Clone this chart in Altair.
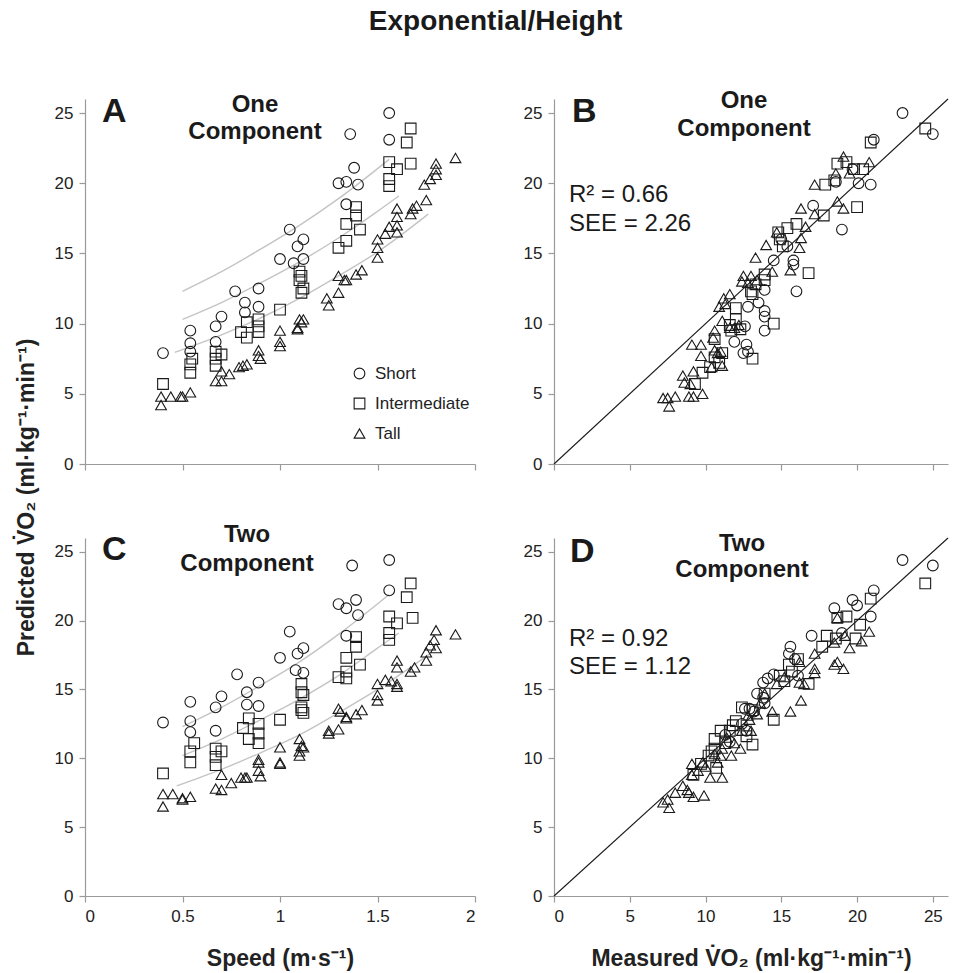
import altair as alt
import pandas as pd

GROUPS = ["Short", "Intermediate", "Tall"]
SHAPES = ["circle", "square", "triangle-up"]
FONT = "Liberation Sans"
INK = "#1a1a1a"
AXIS_GRAY = "#9a9a9a"

# ---------------- Panel A: speed vs predicted VO2 (one component) ----------------
A_SHORT = [(0.40, 7.9), (0.54, 9.5), (0.54, 8.6), (0.54, 8.0), (0.67, 9.8), (0.70, 10.5),
           (0.67, 8.7), (0.77, 12.3), (0.82, 11.5), (0.82, 10.8), (0.89, 12.5), (0.89, 11.2),
           (1.00, 14.6), (1.05, 16.7), (1.09, 15.5), (1.12, 16.0), (1.07, 14.3), (1.12, 14.6),
           (1.30, 20.0), (1.34, 20.1), (1.36, 23.5), (1.38, 21.1), (1.40, 19.9), (1.34, 18.5),
           (1.56, 25.0), (1.56, 23.1)]
A_INTER = [(0.40, 5.7), (0.54, 7.1), (0.54, 6.5), (0.55, 7.5), (0.67, 8.0), (0.67, 7.5),
           (0.67, 7.0), (0.70, 7.8), (0.80, 9.4), (0.83, 10.1), (0.83, 9.0), (0.89, 10.3),
           (0.89, 9.8), (0.89, 9.4), (1.00, 11.0), (1.10, 13.7), (1.11, 13.4), (1.10, 13.1),
           (1.12, 12.5), (1.11, 12.2), (1.30, 15.4), (1.34, 15.9), (1.34, 17.1), (1.39, 18.3),
           (1.39, 17.7), (1.41, 16.7), (1.56, 21.5), (1.60, 21.0), (1.56, 20.3), (1.56, 19.8),
           (1.65, 22.9), (1.67, 23.9), (1.67, 21.4)]
A_TALL = [(0.39, 4.8), (0.39, 4.2), (0.44, 4.8), (0.49, 4.8), (0.50, 4.8), (0.54, 5.1),
          (0.67, 5.9), (0.70, 5.9), (0.70, 6.6), (0.74, 6.4), (0.79, 6.9), (0.81, 7.0),
          (0.83, 7.1), (0.89, 7.7), (0.89, 8.1), (0.90, 7.5), (1.00, 9.5), (1.00, 8.7),
          (1.00, 8.4), (1.09, 9.6), (1.10, 10.3), (1.11, 10.1), (1.12, 10.3), (1.09, 9.7),
          (1.24, 11.8), (1.25, 11.3), (1.30, 13.4), (1.30, 12.2), (1.33, 13.1), (1.34, 13.1),
          (1.39, 13.5), (1.42, 13.8), (1.50, 16.0), (1.50, 15.4), (1.50, 14.7), (1.54, 16.4),
          (1.56, 16.9), (1.60, 18.2), (1.60, 17.6), (1.60, 17.0), (1.60, 16.5), (1.67, 17.8),
          (1.68, 18.2), (1.70, 18.4), (1.75, 18.8), (1.74, 19.9), (1.77, 20.3), (1.80, 20.6),
          (1.80, 21.0), (1.80, 21.4), (1.90, 21.8)]
A_CURVE_SHORT = [(0.50, 12.3), (0.70, 13.7), (0.90, 15.3), (1.10, 17.0), (1.30, 18.9), (1.56, 21.7)]
A_CURVE_INTER = [(0.50, 10.3), (0.70, 11.5), (0.90, 12.9), (1.10, 14.4), (1.30, 16.1), (1.50, 18.0), (1.61, 19.1)]
A_CURVE_TALL = [(0.46, 7.95), (0.70, 9.2), (0.90, 10.4), (1.10, 11.8), (1.30, 13.4), (1.50, 15.1), (1.76, 17.8)]

# ---------------- Panel B: measured vs predicted (one component) ----------------
B_SHORT = [(23.0, 25.0), (25.0, 23.5), (21.1, 23.1), (20.1, 20.0), (20.9, 19.9), (18.6, 20.1),
           (17.1, 18.4), (19.0, 16.7), (14.5, 14.5), (15.8, 14.5), (15.8, 14.2), (15.4, 15.5),
           (16.0, 12.3), (13.5, 11.5), (13.9, 12.4), (13.9, 10.9), (13.9, 10.5), (13.9, 9.5),
           (12.8, 11.2), (12.6, 9.8), (11.9, 8.7), (12.7, 8.5), (12.5, 7.9), (12.8, 8.0),
           (15.0, 16.0), (19.7, 21.0)]
B_INTER = [(24.5, 23.9), (20.9, 22.9), (20.0, 18.3), (17.9, 19.9), (17.8, 17.7), (16.8, 13.6),
           (18.7, 21.4), (19.3, 21.5), (19.8, 21.0), (20.4, 21.0), (18.5, 20.2), (16.0, 17.1),
           (15.4, 16.8), (14.9, 16.0), (15.1, 15.5), (14.8, 16.5), (13.9, 13.5), (13.9, 13.1),
           (13.3, 12.8), (13.0, 12.3), (13.1, 12.1), (12.0, 11.1), (12.0, 10.3), (11.7, 9.5),
           (12.3, 9.6), (14.5, 10.0), (13.1, 7.5), (11.1, 7.9), (10.6, 7.6), (10.9, 7.2),
           (10.3, 6.9), (9.8, 6.5), (9.3, 5.7), (11.6, 9.9), (10.6, 8.9)]
B_TALL = [(19.1, 21.9), (20.8, 21.5), (19.5, 20.7), (18.6, 20.7), (17.2, 19.9), (18.7, 18.7),
          (19.1, 18.2), (16.3, 18.2), (17.2, 17.8), (16.6, 16.9), (16.3, 16.1), (16.2, 15.4),
          (15.6, 13.8), (14.7, 16.5), (14.0, 15.6), (13.3, 14.7), (14.4, 13.7), (12.5, 13.4),
          (13.0, 13.4), (13.4, 13.1), (12.8, 12.9), (11.6, 12.1), (11.2, 11.8), (10.9, 11.2),
          (11.1, 10.2), (10.6, 9.5), (10.5, 9.0), (11.6, 9.7), (9.1, 8.5), (9.7, 8.5),
          (9.7, 7.7), (10.8, 7.9), (11.1, 7.0), (10.4, 6.9), (9.2, 6.6), (8.5, 6.3),
          (8.6, 5.8), (9.0, 5.7), (7.2, 4.7), (7.5, 4.7), (8.0, 4.8), (7.6, 4.1),
          (8.9, 4.8), (9.2, 4.8), (9.8, 5.0), (12.2, 9.9), (11.9, 9.7), (12.4, 13.0),
          (11.3, 11.4), (10.6, 8.1), (11.0, 8.0)]

# ---------------- Panel C: speed vs predicted VO2 (two component) ----------------
C_SHORT = [(0.40, 12.6), (0.54, 14.1), (0.54, 12.7), (0.54, 11.9), (0.67, 13.7), (0.70, 14.5),
           (0.67, 12.0), (0.78, 16.1), (0.83, 14.8), (0.83, 13.9), (0.89, 15.5), (0.89, 13.8),
           (1.00, 17.3), (1.05, 19.2), (1.09, 17.6), (1.12, 18.0), (1.08, 16.4), (1.12, 16.2),
           (1.30, 21.2), (1.34, 20.9), (1.37, 24.0), (1.39, 21.5), (1.40, 20.4), (1.34, 18.9),
           (1.56, 24.4), (1.56, 22.2)]
C_INTER = [(0.40, 8.9), (0.54, 10.5), (0.54, 9.7), (0.56, 11.1), (0.67, 10.7), (0.67, 10.1),
           (0.67, 9.5), (0.70, 10.5), (0.81, 12.2), (0.84, 12.9), (0.84, 11.4), (0.89, 12.5),
           (0.89, 11.8), (0.89, 11.1), (1.00, 12.8), (1.11, 15.4), (1.11, 14.8), (1.12, 14.6),
           (1.11, 13.7), (1.12, 13.3), (1.11, 13.5), (1.30, 15.9), (1.34, 15.8), (1.34, 16.3),
           (1.34, 17.3), (1.39, 18.8), (1.39, 18.1), (1.41, 16.8), (1.56, 20.3), (1.56, 19.1),
           (1.56, 18.6), (1.60, 19.8), (1.65, 21.7), (1.67, 22.7), (1.68, 20.2)]
C_TALL = [(0.40, 7.4), (0.40, 6.5), (0.45, 7.4), (0.50, 7.1), (0.50, 7.0), (0.54, 7.2),
          (0.67, 7.8), (0.70, 7.7), (0.70, 8.8), (0.75, 8.2), (0.80, 8.6), (0.82, 8.6),
          (0.83, 8.6), (0.89, 9.9), (0.89, 9.1), (0.90, 8.7), (0.89, 9.7), (1.00, 10.8),
          (1.00, 9.7), (1.00, 9.6), (1.10, 11.4), (1.11, 10.9), (1.10, 10.5), (1.12, 10.8),
          (1.10, 10.2), (1.25, 12.0), (1.25, 11.8), (1.30, 12.1), (1.30, 13.6), (1.31, 13.4),
          (1.34, 13.0), (1.34, 12.9), (1.39, 13.2), (1.42, 13.5), (1.50, 15.4), (1.50, 14.6),
          (1.50, 14.2), (1.54, 15.7), (1.57, 15.6), (1.60, 17.1), (1.60, 16.6), (1.60, 15.4),
          (1.60, 15.2), (1.67, 16.3), (1.69, 16.6), (1.75, 17.1), (1.75, 17.7), (1.77, 18.2),
          (1.79, 18.6), (1.80, 18.0), (1.80, 19.3), (1.90, 19.0)]
C_CURVE_SHORT = [(0.50, 12.3), (0.70, 13.7), (0.90, 15.3), (1.10, 17.0), (1.30, 19.0), (1.56, 21.9)]
C_CURVE_INTER = [(0.50, 10.2), (0.70, 11.4), (0.90, 12.8), (1.10, 14.3), (1.30, 16.0), (1.50, 18.0), (1.61, 19.1)]
C_CURVE_TALL = [(0.47, 8.0), (0.70, 9.2), (0.90, 10.4), (1.10, 11.7), (1.30, 13.3), (1.50, 15.0), (1.77, 17.6)]

# ---------------- Panel D: measured vs predicted (two component) ----------------
D_SHORT = [(23.0, 24.4), (25.0, 24.0), (21.1, 22.2), (19.7, 21.5), (20.0, 21.1), (18.5, 20.9),
           (20.9, 20.3), (17.0, 18.9), (19.0, 19.1), (15.6, 18.1), (15.5, 17.6), (15.9, 17.2),
           (14.5, 16.1), (13.8, 15.5), (13.4, 14.7), (13.9, 14.0), (12.9, 13.6), (12.7, 12.0),
           (16.1, 16.0), (13.8, 14.4), (12.6, 13.6), (12.4, 12.5), (11.3, 11.7), (11.6, 11.2),
           (13.2, 13.4), (14.1, 15.8)]
D_INTER = [(24.5, 22.7), (20.9, 21.6), (19.3, 20.3), (18.7, 20.2), (20.2, 19.7), (18.0, 18.9),
           (17.7, 18.1), (19.9, 18.7), (18.6, 18.7), (16.1, 17.2), (15.5, 16.8), (14.9, 16.0),
           (15.2, 15.6), (16.8, 15.4), (13.9, 14.7), (14.5, 12.8), (13.1, 11.0), (12.0, 12.7),
           (11.8, 12.4), (11.0, 12.0), (10.6, 11.4), (10.6, 10.7), (10.2, 10.2), (10.7, 9.3),
           (9.7, 9.6), (9.2, 8.8), (11.3, 11.1), (12.7, 11.6), (12.4, 13.7), (13.1, 13.5),
           (15.7, 16.3), (11.6, 12.0), (10.4, 10.5)]
D_TALL = [(18.7, 20.2), (20.8, 19.2), (20.3, 18.5), (19.5, 18.0), (19.2, 18.9), (18.5, 18.4),
          (17.2, 17.6), (17.2, 16.5), (17.2, 16.2), (18.7, 17.0), (18.5, 16.8), (19.1, 16.5),
          (16.2, 17.0), (16.2, 15.5), (16.5, 15.4), (16.3, 14.2), (15.6, 13.4), (14.4, 13.4),
          (14.7, 15.4), (13.9, 14.7), (13.4, 13.2), (12.9, 12.8), (13.0, 12.0), (12.4, 12.0),
          (12.3, 10.7), (11.9, 11.1), (11.7, 10.2), (11.0, 10.2), (11.1, 8.6), (10.3, 8.6),
          (10.8, 9.7), (9.8, 9.7), (9.5, 9.1), (9.1, 9.6), (9.1, 8.8), (8.5, 8.0),
          (8.8, 7.7), (8.9, 7.5), (9.2, 7.2), (9.9, 7.3), (8.0, 7.5), (7.5, 7.0),
          (7.2, 6.8), (7.6, 6.4), (11.1, 10.7), (10.6, 10.3), (12.8, 13.1), (11.4, 11.5),
          (10.0, 9.4), (13.6, 14.0), (15.2, 15.9)]

SPEED_TICKS = [0, 0.5, 1, 1.5, 2]
VO2_TICKS = [0, 5, 10, 15, 20, 25]

Y_TITLE = "Predicted V\u0307O\u2082 (ml\u00b7kg\u207b\u00b9\u00b7min\u207b\u00b9)"
X_TITLE_SPEED = "Speed (m\u00b7s\u207b\u00b9)"
X_TITLE_MEAS = "Measured V\u0307O\u2082 (ml\u00b7kg\u207b\u00b9\u00b7min\u207b\u00b9)"


def frame(groups):
    rows = []
    for name, pts in zip(GROUPS, groups):
        for x, y in pts:
            rows.append({"x": x, "y": y, "group": name})
    return pd.DataFrame(rows)


def axis(values, labels=True, title=None, fmt="~g", **kw):
    args = dict(values=values, grid=False, tickSize=6, labelPadding=6, labels=labels,
                format=fmt, domainColor=AXIS_GRAY, tickColor=AXIS_GRAY, domainWidth=1.2,
                tickWidth=1.2, labelFont=FONT, labelFontSize=17, labelColor="#222",
                titleFont=FONT, titleFontSize=23, titleFontWeight="bold", titleColor="#222")
    args["title"] = title if title is not None else ""
    args.update(kw)
    return alt.Axis(**args)


def text(s, x, y, size, bold=True, align="left"):
    return alt.Chart(pd.DataFrame({"t": [s]})).mark_text(
        font=FONT, fontSize=size, fontWeight="bold" if bold else "normal",
        align=align, baseline="alphabetic", color=INK
    ).encode(x=alt.value(x), y=alt.value(y), text="t:N")


def panel(groups, xdom, xaxis, yaxis, width, height, legend=None, curves=None, identity=False,
          notes=()):
    X = alt.X("x:Q", scale=alt.Scale(domain=xdom, nice=False, zero=False), axis=xaxis)
    Y = alt.Y("y:Q", scale=alt.Scale(domain=[0, 26], nice=False), axis=yaxis)
    layers = []
    if curves is not None:
        layers.append(
            alt.Chart(frame(curves)).mark_line(color="#c4c4c4", strokeWidth=1.4, interpolate="monotone")
            .encode(x=X, y=Y, detail="group:N", order="x:Q")
        )
    if identity:
        layers.append(
            alt.Chart(pd.DataFrame({"x": xdom, "y": xdom})).mark_line(color=INK, strokeWidth=1.1)
            .encode(x=X, y=Y)
        )
    shape = alt.Shape("group:N", scale=alt.Scale(domain=GROUPS, range=SHAPES), legend=legend)
    layers.append(
        alt.Chart(frame(groups)).mark_point(filled=False, size=115, strokeWidth=1.1, color=INK, opacity=1)
        .encode(x=X, y=Y, shape=shape)
    )
    layers.extend(notes)
    return alt.layer(*layers).properties(width=width, height=height)


legend_A = alt.Legend(title=None, orient="none", legendX=266, legendY=266, symbolSize=115,
                      symbolStrokeWidth=1.1, symbolStrokeColor=INK, symbolFillColor="transparent",
                      labelFont=FONT, labelFontSize=17, labelColor="#222", rowPadding=12,
                      labelOffset=7, padding=0)

pA = panel([A_SHORT, A_INTER, A_TALL], [0, 2],
           axis(SPEED_TICKS, labels=False),
           axis(VO2_TICKS, title=Y_TITLE, titleAngle=270, titleX=-52, titleY=398,
                titleAlign="center", titleBaseline="alphabetic"),
           390, 365, legend=legend_A, curves=[A_CURVE_SHORT, A_CURVE_INTER, A_CURVE_TALL],
           notes=[text("A", 17, 23, 34), text("One", 170, 13, 24, align="center"),
                  text("Component", 170, 40, 24, align="center")])

pB = panel([B_SHORT, B_INTER, B_TALL], [0, 26],
           axis(VO2_TICKS, labels=False), axis(VO2_TICKS),
           394, 365, identity=True, legend=None,
           notes=[text("B", 18, 23, 34), text("One", 190, 9, 24, align="center"),
                  text("Component", 190, 37, 24, align="center"),
                  text("R\u00b2 = 0.66", 15, 103, 24, bold=False),
                  text("SEE = 2.26", 15, 132, 24, bold=False)])

pC = panel([C_SHORT, C_INTER, C_TALL], [0, 2],
           axis(SPEED_TICKS, title=X_TITLE_SPEED, titlePadding=23), axis(VO2_TICKS),
           390, 358, curves=[C_CURVE_SHORT, C_CURVE_INTER, C_CURVE_TALL], legend=None,
           notes=[text("C", 17, 22, 34), text("Two", 162, 4, 24, align="center"),
                  text("Component", 162, 33, 24, align="center")])

pD = panel([D_SHORT, D_INTER, D_TALL], [0, 26],
           axis(VO2_TICKS, title=X_TITLE_MEAS, titlePadding=23), axis(VO2_TICKS),
           394, 358, identity=True, legend=None,
           notes=[text("D", 16, 24, 34), text("Two", 188, 13, 24, align="center"),
                  text("Component", 188, 39, 24, align="center"),
                  text("R\u00b2 = 0.92", 15, 108, 24, bold=False),
                  text("SEE = 1.12", 15, 136, 24, bold=False)])

chart = alt.concat(
    pA, pB, pC, pD, columns=2, spacing={"row": 74, "column": 79}, bounds="flush",
    title=alt.TitleParams("Exponential/Height", font=FONT, fontSize=28, fontWeight="bold",
                          color=INK, anchor="middle", frame="bounds", offset=53, dx=13),
    padding={"left": 14, "top": 7, "right": 5, "bottom": 0},
    background="white",
).resolve_scale(shape="independent").configure_view(stroke="transparent")

chart.save("out.html", embed_options={"renderer": "svg", "actions": False})
